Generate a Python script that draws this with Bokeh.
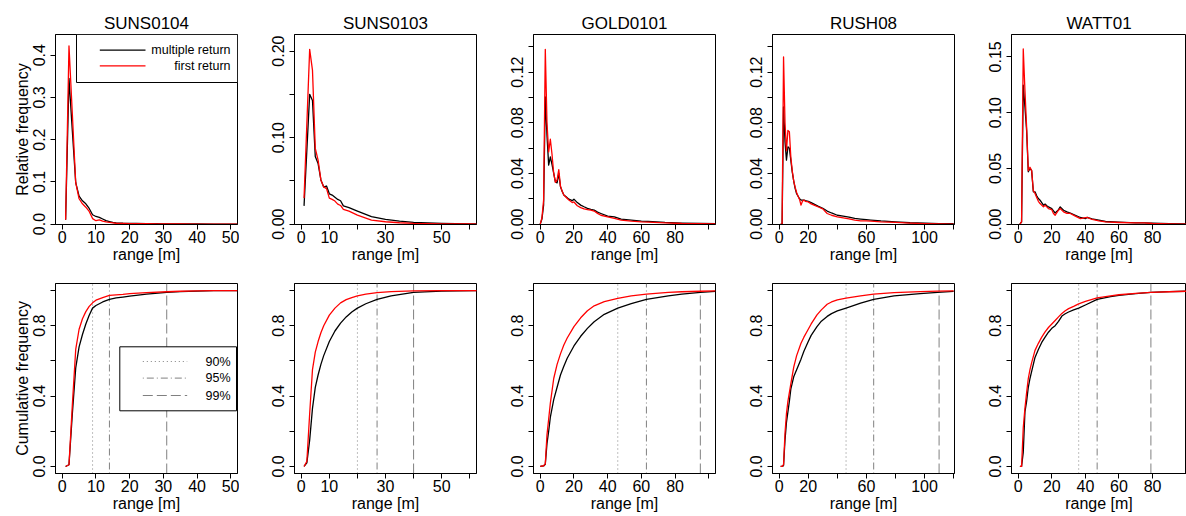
from bokeh.plotting import figure
from bokeh.layouts import gridplot
from bokeh.models import FixedTicker, Range1d, Label
from bokeh.embed import file_html
from bokeh.resources import INLINE

FONT = "Liberation Sans"

sites = ["SUNS0104", "SUNS0103", "GOLD0101", "RUSH08", "WATT01"]

# ---------------- relative frequency (top row) ----------------
rel_x_suns0104 = [1, 2, 3, 4, 5, 6, 7, 8, 9, 10, 11, 12, 13, 14, 15, 16, 18, 20, 22, 25, 28, 30, 35, 40, 45, 50, 52]
rel_multi_suns0104 = [0.01, 0.345, 0.22, 0.098, 0.066, 0.055, 0.048, 0.037, 0.022, 0.018, 0.016, 0.012, 0.008, 0.006,
                      0.004, 0.003, 0.002, 0.0015, 0.0015, 0.0012, 0.001, 0.0006, 0.0003, 0.0002, 0.0001, 0.0001, 0.0]
rel_first_suns0104 = [0.01, 0.422, 0.26, 0.098, 0.06, 0.048, 0.04, 0.03, 0.013, 0.008, 0.01, 0.007, 0.005, 0.004,
                      0.003, 0.002, 0.0015, 0.001, 0.001, 0.0008, 0.0006, 0.0004, 0.0002, 0.0001, 0.0001, 0.0, 0.0]

rel_x_suns0103 = [1, 3, 4, 5, 6, 7, 8, 9, 10, 11, 12, 13, 14, 15, 17, 20, 25, 30, 35, 40, 50, 60, 63]
rel_multi_suns0103 = [0.021, 0.150, 0.143, 0.078, 0.07, 0.051, 0.043, 0.044, 0.035, 0.0335, 0.031, 0.0285, 0.027,
                      0.021, 0.019, 0.015, 0.0085, 0.0054, 0.0035, 0.002, 0.0008, 0.0003, 0.0002]
rel_first_suns0103 = [0.03, 0.202, 0.178, 0.0875, 0.074, 0.051, 0.043, 0.041, 0.03, 0.0285, 0.0266, 0.023, 0.0215,
                      0.017, 0.015, 0.0104, 0.0046, 0.0027, 0.0015, 0.0008, 0.0003, 0.0001, 0.0]

rel_x_gold0101 = [0, 1, 2, 3, 4, 5, 6, 7, 8, 9, 10, 11, 12, 13, 14, 15, 17, 19, 20, 22, 24, 26, 28, 30, 32, 34, 36,
                  40, 44, 48, 54, 60, 64, 74, 84, 95, 104]
rel_multi_gold0101 = [0, 0.004, 0.015, 0.1005, 0.07, 0.0466, 0.053, 0.047, 0.04, 0.0334, 0.0326, 0.04, 0.0295, 0.026,
                      0.023, 0.022, 0.0197, 0.0185, 0.0197, 0.017, 0.015, 0.0137, 0.0125, 0.0116, 0.011, 0.0095,
                      0.0084, 0.0063, 0.0058, 0.004, 0.0032, 0.0024, 0.0021, 0.0013, 0.0008, 0.0005, 0.0003]
rel_first_gold0101 = [0, 0.005, 0.019, 0.138, 0.08, 0.057, 0.067, 0.055, 0.04, 0.033, 0.035, 0.043, 0.03, 0.026,
                      0.023, 0.0216, 0.019, 0.017, 0.0175, 0.0145, 0.013, 0.012, 0.0115, 0.011, 0.0103, 0.0085,
                      0.007, 0.0058, 0.0045, 0.0032, 0.0024, 0.0018, 0.0016, 0.001, 0.0005, 0.0003, 0.0002]

rel_x_rush08 = [1, 2, 3, 4, 5, 6, 7, 8, 9, 10, 11, 12, 13, 14, 15, 16, 17, 18, 20, 22, 24, 27, 30, 33, 36, 40, 44,
                48, 52, 56, 60, 63, 70, 80, 90, 100, 110, 120]
rel_multi_rush08 = [0, 0, 0.0926, 0.065, 0.0505, 0.061, 0.06, 0.0505, 0.041, 0.034, 0.028, 0.024, 0.022, 0.020,
                    0.019, 0.019, 0.019, 0.0185, 0.018, 0.017, 0.0158, 0.014, 0.0125, 0.0103, 0.0088, 0.007, 0.0063,
                    0.0055, 0.0045, 0.004, 0.0035, 0.0032, 0.0025, 0.0018, 0.0011, 0.0007, 0.0004, 0.0003]
rel_first_rush08 = [0, 0, 0.132, 0.08, 0.058, 0.074, 0.073, 0.053, 0.042, 0.034, 0.029, 0.025, 0.022, 0.0195,
                    0.015, 0.018, 0.019, 0.018, 0.0175, 0.016, 0.015, 0.0135, 0.012, 0.0084, 0.007, 0.0058, 0.005,
                    0.0042, 0.0032, 0.0026, 0.0025, 0.0024, 0.0018, 0.0013, 0.0008, 0.0004, 0.0002, 0.0]

rel_x_watt01 = [1, 2, 3, 4, 5, 6, 7, 8, 9, 10, 11, 12, 13, 15, 16, 17, 18, 20, 21, 22, 24, 25, 27, 29, 31, 34, 37,
                40, 41, 44, 48, 52, 60, 70, 75, 80, 90, 100]
rel_multi_watt01 = [0, 0.002, 0.1246, 0.105, 0.084, 0.047, 0.05, 0.048, 0.029, 0.029, 0.0255, 0.023, 0.0215, 0.017,
                    0.018, 0.0165, 0.0155, 0.014, 0.012, 0.010, 0.013, 0.0155, 0.0125, 0.011, 0.010, 0.008, 0.006,
                    0.005, 0.006, 0.0048, 0.0036, 0.0024, 0.0018, 0.0012, 0.0011, 0.0009, 0.0004, 0.0002]
rel_first_watt01 = [0, 0.002, 0.157, 0.12, 0.087, 0.048, 0.051, 0.048, 0.030, 0.0275, 0.024, 0.0205, 0.0185, 0.0155,
                    0.017, 0.0155, 0.014, 0.013, 0.0096, 0.008, 0.0125, 0.014, 0.011, 0.0096, 0.0096, 0.0072, 0.005,
                    0.0058, 0.006, 0.0042, 0.003, 0.002, 0.0015, 0.0012, 0.0012, 0.0006, 0.0003, 0.0]

# ---------------- cumulative frequency (bottom row) ----------------
cum_x_suns0104 = [1, 2, 3, 4, 5, 6, 7, 8, 9, 10, 12, 14, 16, 18, 20, 25, 31, 35, 40, 45, 52]
cum_multi_suns0104 = [0, 0.01, 0.3, 0.56, 0.68, 0.75, 0.81, 0.86, 0.90, 0.915, 0.935, 0.95, 0.958, 0.963, 0.968,
                      0.98, 0.99, 0.994, 0.997, 0.999, 1.0]
cum_first_suns0104 = [0, 0.01, 0.35, 0.665, 0.78, 0.84, 0.88, 0.91, 0.93, 0.945, 0.96, 0.972, 0.975, 0.978, 0.982,
                      0.988, 0.993, 0.996, 0.998, 0.999, 1.0]

cum_x_suns0103 = [1, 2, 3, 4, 5, 6, 7, 8, 10, 12, 14, 16, 18, 20, 23, 27, 32, 40, 50, 63]
cum_multi_suns0103 = [0, 0.02, 0.15, 0.33, 0.45, 0.52, 0.58, 0.63, 0.71, 0.77, 0.815, 0.85, 0.878, 0.90, 0.925,
                      0.95, 0.97, 0.99, 0.997, 1.0]
cum_first_suns0103 = [0, 0.03, 0.3, 0.55, 0.65, 0.71, 0.76, 0.80, 0.86, 0.90, 0.93, 0.948, 0.96, 0.97, 0.98, 0.988,
                      0.994, 0.998, 0.999, 1.0]

cum_x_gold0101 = [0, 2, 3, 4, 5, 6, 8, 10, 12, 14, 16, 20, 24, 28, 32, 38, 46, 54, 63, 76, 84, 95, 104]
cum_multi_gold0101 = [0, 0.003, 0.013, 0.13, 0.2, 0.28, 0.38, 0.45, 0.52, 0.57, 0.615, 0.685, 0.74, 0.785, 0.823,
                      0.865, 0.90, 0.925, 0.95, 0.97, 0.98, 0.99, 0.995]
cum_first_gold0101 = [0, 0.004, 0.015, 0.18, 0.27, 0.36, 0.5, 0.58, 0.64, 0.69, 0.73, 0.795, 0.845, 0.885, 0.913,
                      0.937, 0.956, 0.97, 0.98, 0.99, 0.993, 0.996, 0.998]

cum_x_rush08 = [1, 2, 3, 4, 5, 6, 7, 8, 10, 12, 15, 17, 20, 22, 26, 29, 33, 36, 40, 46, 56, 65, 79, 97, 109, 120]
cum_multi_rush08 = [0, 0, 0.005, 0.15, 0.25, 0.31, 0.37, 0.44, 0.51, 0.55, 0.61, 0.655, 0.71, 0.745, 0.795, 0.826,
                    0.853, 0.869, 0.884, 0.90, 0.928, 0.95, 0.97, 0.983, 0.99, 0.995]
cum_first_rush08 = [0, 0, 0.01, 0.19, 0.3, 0.37, 0.42, 0.47, 0.565, 0.63, 0.70, 0.735, 0.78, 0.81, 0.862, 0.89,
                    0.922, 0.935, 0.947, 0.957, 0.97, 0.98, 0.988, 0.994, 0.997, 0.998]

cum_x_watt01 = [1, 2, 3, 4, 5, 6, 7, 8, 10, 12, 14, 16, 18, 20, 22, 24, 26, 28, 30, 33, 36, 40, 47, 55, 60, 70, 79,
                90, 100]
cum_multi_watt01 = [0, 0, 0.08, 0.31, 0.37, 0.45, 0.5, 0.54, 0.62, 0.665, 0.705, 0.735, 0.763, 0.785, 0.80, 0.825,
                    0.855, 0.868, 0.878, 0.89, 0.90, 0.918, 0.95, 0.965, 0.972, 0.982, 0.99, 0.994, 0.996]
cum_first_watt01 = [0, 0, 0.22, 0.33, 0.42, 0.5, 0.55, 0.59, 0.66, 0.70, 0.735, 0.765, 0.79, 0.81, 0.83, 0.85,
                    0.87, 0.885, 0.897, 0.91, 0.924, 0.938, 0.958, 0.97, 0.976, 0.984, 0.989, 0.993, 0.996]

# quantiles of range (multiple return)
q90 = [9, 20, 46, 46, 36]
q95 = [14, 27, 63, 65, 47]
q99 = [31, 40, 95, 110, 79]

rel_x = [rel_x_suns0104, rel_x_suns0103, rel_x_gold0101, rel_x_rush08, rel_x_watt01]
rel_multi = [rel_multi_suns0104, rel_multi_suns0103, rel_multi_gold0101, rel_multi_rush08, rel_multi_watt01]
rel_first = [rel_first_suns0104, rel_first_suns0103, rel_first_gold0101, rel_first_rush08, rel_first_watt01]
cum_x = [cum_x_suns0104, cum_x_suns0103, cum_x_gold0101, cum_x_rush08, cum_x_watt01]
cum_multi = [cum_multi_suns0104, cum_multi_suns0103, cum_multi_gold0101, cum_multi_rush08, cum_multi_watt01]
cum_first = [cum_first_suns0104, cum_first_suns0103, cum_first_gold0101, cum_first_rush08, cum_first_watt01]

# axis ticks and labels
x_ticks = [
    [0, 10, 20, 30, 40, 50],
    [0, 10, 20, 30, 40, 50, 60],
    [0, 20, 40, 60, 80, 100],
    [0, 20, 40, 60, 80, 100, 120],
    [0, 20, 40, 60, 80, 100],
]
x_labels = [
    ["0", "10", "20", "30", "40", "50"],
    ["0", "10", "", "30", "", "50", ""],
    ["0", "20", "40", "60", "80", ""],
    ["0", "20", "", "60", "", "100", ""],
    ["0", "20", "40", "60", "80", ""],
]
rel_y_ticks = [
    [0.0, 0.1, 0.2, 0.3, 0.4],
    [0.0, 0.05, 0.10, 0.15, 0.20],
    [0.0, 0.02, 0.04, 0.06, 0.08, 0.10, 0.12, 0.14],
    [0.0, 0.02, 0.04, 0.06, 0.08, 0.10, 0.12, 0.14],
    [0.0, 0.05, 0.10, 0.15],
]
rel_y_labels = [
    ["0.0", "0.1", "0.2", "0.3", "0.4"],
    ["0.00", "", "0.10", "", "0.20"],
    ["0.00", "", "0.04", "", "0.08", "", "0.12", ""],
    ["0.00", "", "0.04", "", "0.08", "", "0.12", ""],
    ["0.00", "0.05", "0.10", "0.15"],
]
cum_y_ticks = [0.0, 0.2, 0.4, 0.6, 0.8, 1.0]
cum_y_labels = ["0.0", "", "0.4", "", "0.8", ""]

legend_series = ["multiple return", "first return"]
legend_quant = ["90%", "95%", "99%"]

# ---------------- layout / styling constants ----------------
x_rng = [(-2, 52), (-2.4, 62.4), (-4, 104), (-4.6, 120.6), (-4, 100.2)]
rel_y_rng = [(-0.001, 0.449), (-0.0005, 0.2192), (-0.0003, 0.1497), (-0.0003, 0.1497), (-0.0003, 0.1700)]
cum_y_rng = (-0.04, 1.04)

FRAME_W = [182, 182, 182, 182, 175]
B_LEFT = 55
B_RIGHT = [2, 2, 2, 2, 0]
TOP = dict(bt=34, fh=190, bb=42)
BOT = dict(bt=17, fh=190, bb=43)

C_MULTI = "#000000"
C_FIRST = "#FF0000"
C_Q = "#808080"
DASH = {"90": "1 3", "95": "1 3 7 3", "99": "10 4"}
LW = 1.3


def make_fig(i, conf, yr, ticks_y, labels_y, ylab, title=None):
    w = B_LEFT + FRAME_W[i] + B_RIGHT[i]
    h = conf["bt"] + conf["fh"] + conf["bb"]
    p = figure(width=w, height=h, x_range=Range1d(*x_rng[i]), y_range=Range1d(*yr),
               output_backend="svg", toolbar_location=None,
               min_border_left=B_LEFT, min_border_right=B_RIGHT[i],
               min_border_top=conf["bt"], min_border_bottom=conf["bb"])
    p.grid.visible = False
    p.background_fill_color = "white"
    p.border_fill_color = "white"
    p.outline_line_color = "black"
    p.outline_line_width = 1
    p.outline_line_alpha = 1
    for ax in (p.xaxis[0], p.yaxis[0]):
        ax.axis_line_color = "black"
        ax.major_tick_line_color = "black"
        ax.major_tick_in = 0
        ax.major_tick_out = 5
        ax.minor_tick_line_color = None
        ax.major_label_text_font = FONT
        ax.major_label_text_font_size = "16px"
        ax.major_label_text_color = "black"
        ax.axis_label_text_font = FONT
        ax.axis_label_text_font_size = "16px"
        ax.axis_label_text_font_style = "normal"
        ax.axis_label_text_color = "black"
        ax.axis_label_standoff = 0
    xa = p.xaxis[0]
    xa.ticker = FixedTicker(ticks=x_ticks[i])
    xa.major_label_overrides = {t: l for t, l in zip(x_ticks[i], x_labels[i])}
    xa.major_label_standoff = 1
    xa.axis_label = "range [m]"
    ya = p.yaxis[0]
    ya.ticker = FixedTicker(ticks=ticks_y)
    ya.major_label_overrides = {t: l for t, l in zip(ticks_y, labels_y)}
    ya.major_label_orientation = "vertical"
    ya.major_label_standoff = 5
    if i == 0:
        ya.axis_label = ylab
    if title:
        p.title.text = title
        p.title.align = "center"
        p.title.text_font = FONT
        p.title.text_font_size = "17px"
        p.title.text_font_style = "normal"
        p.title.text_color = "black"
        p.title.standoff = 4
    return p


def fx(i, off):
    a, b = x_rng[i]
    return a + off / FRAME_W[i] * (b - a)


def fy(yr, fh, off):
    a, b = yr
    return b - off / fh * (b - a)


top_figs, bot_figs = [], []
for i, name in enumerate(sites):
    # ---- top: relative frequency ----
    p = make_fig(i, TOP, rel_y_rng[i], rel_y_ticks[i], rel_y_labels[i], "Relative frequency", title=name)
    p.line(rel_x[i], rel_multi[i], line_color=C_MULTI, line_width=LW, line_join="round")
    p.line(rel_x[i], rel_first[i], line_color=C_FIRST, line_width=LW, line_join="round")
    if i == 0:
        yr, fh = rel_y_rng[i], TOP["fh"]
        p.quad(left=fx(i, 21), right=fx(i, 182), top=fy(yr, fh, 0), bottom=fy(yr, fh, 48),
               fill_color="white", line_color="black", line_width=1)
        for k, (lab, col) in enumerate(zip(legend_series, [C_MULTI, C_FIRST])):
            yy = fy(yr, fh, [15.6, 31.3][k])
            p.line([fx(i, 44.3), fx(i, 90)], [yy, yy], line_color=col, line_width=LW)
            p.add_layout(Label(x=fx(i, 175), y=yy, text=lab, text_align="right", text_baseline="middle",
                               text_font=FONT, text_font_size="12.5px", text_color="black"))
    top_figs.append(p)

    # ---- bottom: cumulative frequency ----
    q = make_fig(i, BOT, cum_y_rng, cum_y_ticks, cum_y_labels, "Cumulative frequency")
    y0, y1 = cum_y_rng
    for qv, key in ((q90[i], "90"), (q95[i], "95"), (q99[i], "99")):
        q.segment(x0=qv, y0=y0, x1=qv, y1=y1, line_color=C_Q, line_width=1, line_dash=DASH[key])
    q.line(cum_x[i], cum_multi[i], line_color=C_MULTI, line_width=LW, line_join="round")
    q.line(cum_x[i], cum_first[i], line_color=C_FIRST, line_width=LW, line_join="round")
    if i == 0:
        fh = BOT["fh"]
        q.quad(left=fx(i, 64.3), right=fx(i, 181), top=fy(cum_y_rng, fh, 63.3), bottom=fy(cum_y_rng, fh, 127.3),
               fill_color="white", line_color="black", line_width=1)
        for k, (lab, key) in enumerate(zip(legend_quant, ["90", "95", "99"])):
            yy = fy(cum_y_rng, fh, [78, 94.6, 112][k])
            q.line([fx(i, 87.3), fx(i, 131.7)], [yy, yy], line_color=C_Q, line_width=1, line_dash=DASH[key])
            q.add_layout(Label(x=fx(i, 175), y=yy, text=lab, text_align="right", text_baseline="middle",
                               text_font=FONT, text_font_size="12.5px", text_color="black"))
    bot_figs.append(q)

grid = gridplot([top_figs, bot_figs], toolbar_location=None)
open("out.html", "w").write(file_html(grid, INLINE))
